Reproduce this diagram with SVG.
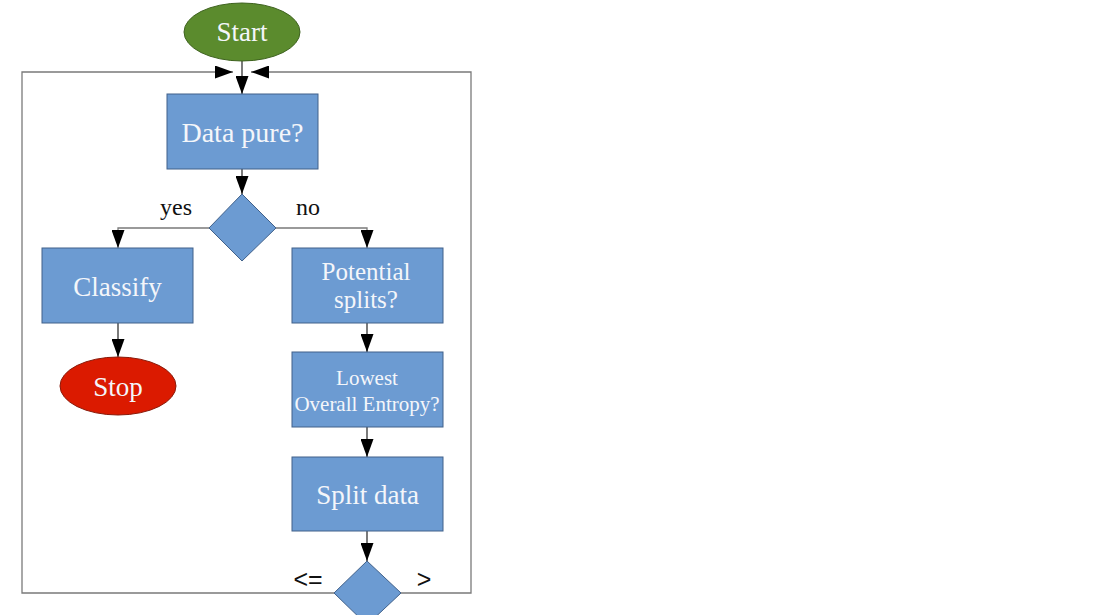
<svg xmlns="http://www.w3.org/2000/svg" width="1093" height="615" viewBox="0 0 1093 615">
<style>
.box{fill:#6c9bd2;stroke:#41618a;stroke-width:1}
.lbl{font-family:"Liberation Serif",serif;fill:#f4f6fa;text-anchor:middle}
.edge{fill:none;stroke:#7a7a7a;stroke-width:1.3}
.arr{fill:none;stroke:#222;stroke-width:1.2}
.tag{font-family:"Liberation Serif",serif;fill:#111;font-size:24px;text-anchor:middle}
.sym{font-family:"Liberation Sans",sans-serif;fill:#111;font-size:25px;text-anchor:middle}
</style>
<defs>
<marker id="ahv" markerWidth="18" markerHeight="13" refX="18" refY="6.5" orient="auto" markerUnits="userSpaceOnUse" viewBox="0 0 18 13">
<path d="M0,0 L18,6.5 L0,13 z" fill="#000"/>
</marker>
</defs>
<rect width="1093" height="615" fill="#fff"/>
<g id="connectors">
<path class="arr" d="M242,61 V94" marker-end="url(#ahv)"/>
<path class="arr" d="M242,169 V194" marker-end="url(#ahv)"/>
<path class="edge" d="M209,228 H118 V248" marker-end="url(#ahv)"/>
<path class="edge" d="M276,228 H367 V248" marker-end="url(#ahv)"/>
<path class="arr" d="M118,323 V357" marker-end="url(#ahv)"/>
<path class="arr" d="M367,323 V352" marker-end="url(#ahv)"/>
<path class="arr" d="M367,427 V457" marker-end="url(#ahv)"/>
<path class="arr" d="M367,531 V561" marker-end="url(#ahv)"/>
<path class="edge" d="M334,593 H22 V72 H233" marker-end="url(#ahv)"/>
<path class="edge" d="M401,593 H471 V72 H251" marker-end="url(#ahv)"/>
<text class="tag" x="176" y="215">yes</text>
<text class="tag" x="308" y="215">no</text>
<text class="sym" x="308" y="588">&lt;=</text>
<text class="sym" x="424" y="588">&gt;</text>
</g>
<g id="start">
<ellipse cx="242" cy="32" rx="58" ry="29" fill="#5b8b2d" stroke="#3f6320" stroke-width="1"/>
<text class="lbl" x="242" y="41" font-size="27">Start</text>
</g>
<g id="data-pure">
<rect class="box" x="167" y="94" width="151" height="75"/>
<text class="lbl" x="242.5" y="142" font-size="28">Data pure?</text>
</g>
<g id="decision-pure">
<polygon class="box" points="242,194 276,228 242,261 209,228"/>
</g>
<g id="classify">
<rect class="box" x="42" y="248" width="151" height="75"/>
<text class="lbl" x="117.5" y="296" font-size="27">Classify</text>
</g>
<g id="stop">
<ellipse cx="118" cy="386" rx="58" ry="29" fill="#db1a00" stroke="#8a1a0a" stroke-width="1"/>
<text class="lbl" x="118" y="396" font-size="27">Stop</text>
</g>
<g id="potential-splits">
<rect class="box" x="292" y="248" width="151" height="75"/>
<text class="lbl" x="366" y="280" font-size="25">Potential</text>
<text class="lbl" x="366" y="308" font-size="25">splits?</text>
</g>
<g id="lowest-entropy">
<rect class="box" x="292" y="352" width="151" height="75"/>
<text class="lbl" x="367" y="385" font-size="21">Lowest</text>
<text class="lbl" x="367" y="411" font-size="21">Overall Entropy?</text>
</g>
<g id="split-data">
<rect class="box" x="292" y="457" width="151" height="74"/>
<text class="lbl" x="367.5" y="504" font-size="27">Split data</text>
</g>
<g id="decision-split">
<polygon class="box" points="367,561 401,593 367,625 334,593"/>
</g>
</svg>
